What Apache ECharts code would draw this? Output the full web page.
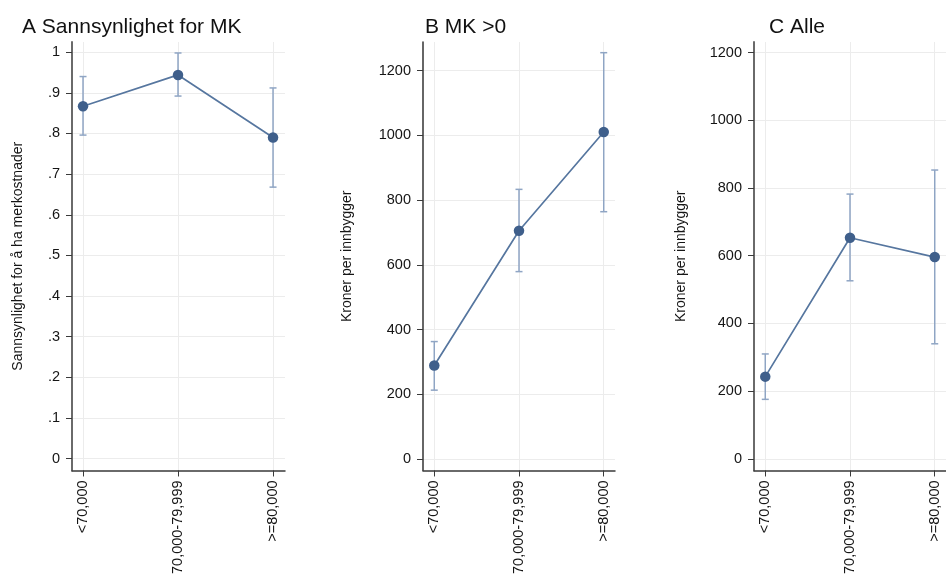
<!DOCTYPE html>
<html>
<head>
<meta charset="utf-8">
<script src="https://cdn.jsdelivr.net/npm/echarts@6/dist/echarts.min.js"></script>
<style>
  html, body { margin: 0; padding: 0; background: #fff; }
  #chart { width: 946px; height: 577px; }
</style>
</head>
<body>
<div id="chart"></div>
<script>
// Income groups shown on every panel
var categories = ['<70,000', '70,000-79,999', '>=80,000'];
var catPositions = [1, 2, 3];

// A: probability of having extra costs (estimate with 95% CI)
var probEst = [0.867, 0.944, 0.790];
var probLow = [0.796, 0.892, 0.668];
var probHigh = [0.940, 0.998, 0.912];
var probTicks = [0, 0.1, 0.2, 0.3, 0.4, 0.5, 0.6, 0.7, 0.8, 0.9, 1];

// B: kroner per inhabitant, municipalities with extra costs > 0
var posEst = [289, 705, 1010];
var posLow = [213, 579, 764];
var posHigh = [363, 833, 1255];

// C: kroner per inhabitant, all municipalities
var allEst = [243, 653, 596];
var allLow = [176, 526, 340];
var allHigh = [310, 782, 853];

var kronerTicks = [0, 200, 400, 600, 800, 1000, 1200];

var FONT = '"Liberation Sans", Arial, sans-serif';
var LINE_COLOR = '#56769f';
var MARK_COLOR = '#3f5f8b';
var CI_COLOR = '#8fa5c4';
var GRID_COLOR = '#ececec';
var TEXT_COLOR = '#151515';

function pairs(values) {
  return values.map(function (v, i) { return [catPositions[i], v]; });
}
function ciData(low, high) {
  return low.map(function (lo, i) { return [catPositions[i], lo, high[i]]; });
}

function errorBars(params, api) {
  var x = api.value(0);
  var top = api.coord([x, api.value(2)]);
  var bot = api.coord([x, api.value(1)]);
  var cap = 3.5;
  var style = { stroke: CI_COLOR, lineWidth: 1.5, fill: null };
  return {
    type: 'group',
    children: [
      { type: 'line', shape: { x1: top[0], y1: top[1], x2: bot[0], y2: bot[1] }, style: style },
      { type: 'line', shape: { x1: top[0] - cap, y1: top[1], x2: top[0] + cap, y2: top[1] }, style: style },
      { type: 'line', shape: { x1: bot[0] - cap, y1: bot[1], x2: bot[0] + cap, y2: bot[1] }, style: style }
    ]
  };
}

function xAxisFor(gridIndex, min, max) {
  return {
    type: 'value', gridIndex: gridIndex, min: min, max: max,
    axisLine: { show: true, onZero: false, lineStyle: { color: '#3a3a3a', width: 1.5 } },
    axisTick: { show: true, length: 6, lineStyle: { color: '#3a3a3a' }, customValues: catPositions },
    axisLabel: {
      customValues: catPositions, rotate: 90, margin: 10,
      fontFamily: FONT, fontSize: 14.5, color: TEXT_COLOR,
      formatter: function (v) { return categories[catPositions.indexOf(Math.round(v))] || ''; }
    },
    splitLine: { show: true, lineStyle: { color: GRID_COLOR, width: 1 } }
  };
}

function yAxisFor(gridIndex, min, max, ticks, name, nameGap, axisColor, axisWidth, fmt) {
  return {
    type: 'value', gridIndex: gridIndex, min: min, max: max,
    name: name, nameLocation: 'middle', nameRotate: 90, nameGap: nameGap,
    nameTextStyle: { fontFamily: FONT, fontSize: 14, color: TEXT_COLOR },
    axisLine: { show: true, onZero: false, lineStyle: { color: axisColor, width: axisWidth } },
    axisTick: { show: true, length: 6, lineStyle: { color: '#3a3a3a' }, customValues: ticks },
    axisLabel: { customValues: ticks, margin: 12, fontFamily: FONT, fontSize: 14.5, color: TEXT_COLOR, formatter: fmt },
    splitLine: { show: true, lineStyle: { color: GRID_COLOR, width: 1 } }
  };
}

function probFmt(v) {
  if (Math.abs(v) < 1e-9) return '0';
  if (Math.abs(v - 1) < 1e-9) return '1';
  return '.' + Math.round(v * 10);
}
function intFmt(v) { return String(Math.round(v)); }

function lineSeries(idx, values) {
  return {
    type: 'line', xAxisIndex: idx, yAxisIndex: idx, data: pairs(values),
    symbol: 'circle', symbolSize: 10.5, z: 3,
    lineStyle: { color: LINE_COLOR, width: 1.7 },
    itemStyle: { color: MARK_COLOR },
    emphasis: { disabled: true }
  };
}
function ciSeries(idx, low, high) {
  return {
    type: 'custom', xAxisIndex: idx, yAxisIndex: idx, z: 2,
    data: ciData(low, high), renderItem: errorBars,
    encode: { x: 0, y: [1, 2] }
  };
}

var titleStyle = { fontFamily: FONT, fontSize: 21, fontWeight: 'normal', color: '#111' };

var chart = echarts.init(document.getElementById('chart'), null, { renderer: 'canvas' });
chart.setOption({
  backgroundColor: '#fff',
  animation: false,
  title: [
    { text: 'A Sannsynlighet for MK', left: 22, top: 17, textStyle: titleStyle, padding: 0 },
    { text: 'B MK >0', left: 425, top: 17, textStyle: titleStyle, padding: 0 },
    { text: 'C Alle', left: 769, top: 17, textStyle: titleStyle, padding: 0 }
  ],
  grid: [
    { left: 72, top: 42, width: 213, height: 429 },
    { left: 423, top: 42, width: 192, height: 429 },
    { left: 754, top: 42, width: 192, height: 429 }
  ],
  xAxis: [
    xAxisFor(0, 0.884, 3.126),
    xAxisFor(1, 0.867, 3.133),
    xAxisFor(2, 0.867, 3.133)
  ],
  yAxis: [
    yAxisFor(0, -0.029, 1.025, probTicks, 'Sannsynlighet for å ha merkostnader', 47, '#6a6a6a', 2, probFmt),
    yAxisFor(1, -35, 1288, kronerTicks, 'Kroner per innbygger', 69, '#333', 1.5, intFmt),
    yAxisFor(2, -34, 1231, kronerTicks, 'Kroner per innbygger', 66, '#6a6a6a', 2, intFmt)
  ],
  series: [
    ciSeries(0, probLow, probHigh), lineSeries(0, probEst),
    ciSeries(1, posLow, posHigh), lineSeries(1, posEst),
    ciSeries(2, allLow, allHigh), lineSeries(2, allEst)
  ]
});
</script>
</body>
</html>
